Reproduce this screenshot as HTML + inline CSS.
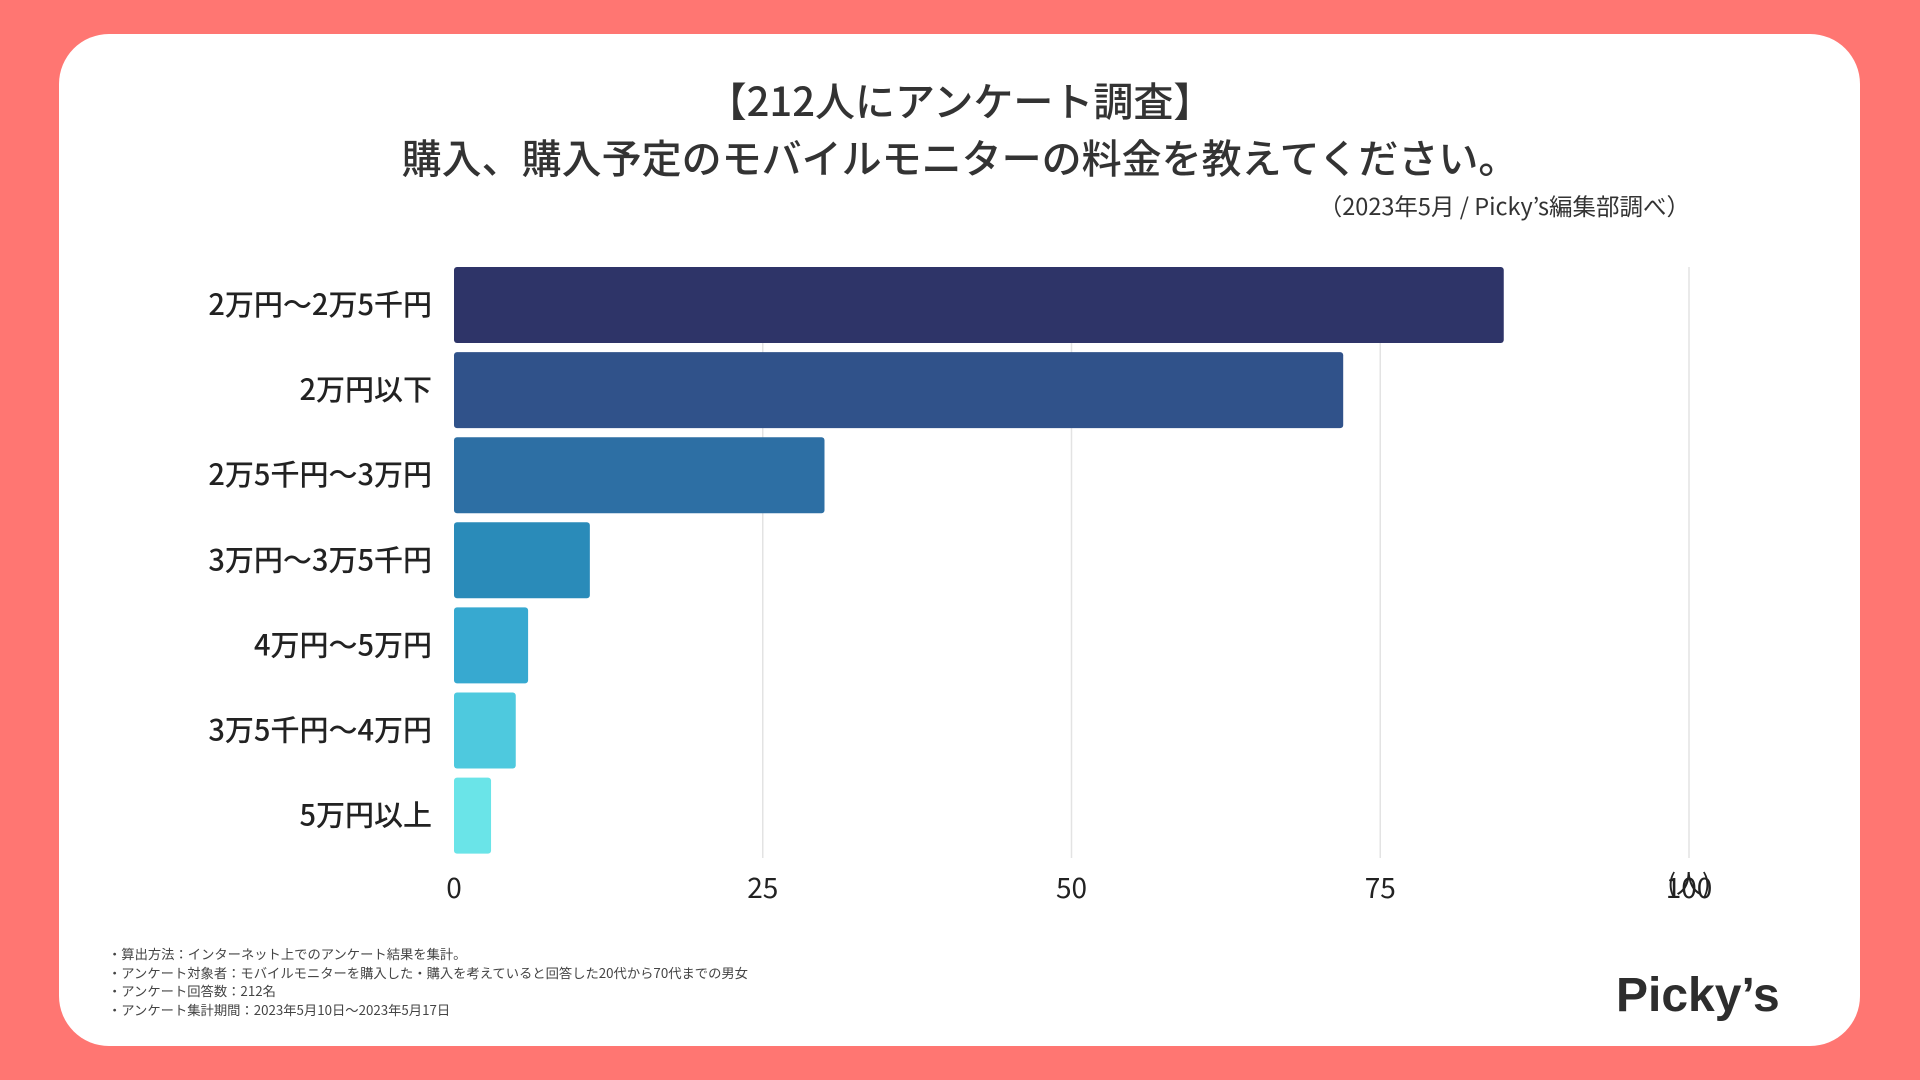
<!DOCTYPE html>
<html><head><meta charset="utf-8">
<style>
body{margin:0;width:1920px;height:1080px;background:#ff7672;overflow:hidden;font-family:"Noto Sans CJK JP","Liberation Sans",sans-serif;}
#card{position:absolute;left:59px;top:34px;width:1801px;height:1012px;background:#fff;border-radius:50px;}
.t{position:absolute;color:#333;}
</style></head><body>
<div id="card"></div>
<div class="t" style="left:0;width:1920px;top:71px;text-align:center;font-size:40px;line-height:57px;font-weight:500;">【212人にアンケート調査】<br>購入、購入予定のモバイルモニターの料金を教えてください。</div>
<div class="t" style="right:230px;top:188px;font-size:23.5px;">（2023年5月 / Picky’s編集部調べ）</div>
<svg id="chart" width="1920" height="1080" style="position:absolute;left:0;top:0;font-family:'Noto Sans CJK JP','Liberation Sans',sans-serif"></svg>
<div class="t" style="left:108px;top:945px;font-size:13.3px;line-height:18.5px;color:#444;">・算出方法：インターネット上でのアンケート結果を集計。<br>・アンケート対象者：モバイルモニターを購入した・購入を考えていると回答した20代から70代までの男女<br>・アンケート回答数：212名<br>・アンケート集計期間：2023年5月10日〜2023年5月17日</div>
<div class="t" style="left:1616px;top:968px;font-size:48px;font-weight:bold;color:#2d2d2d;font-family:'Liberation Sans',sans-serif;">Picky’s</div>
<script>
const categories=["2万円〜2万5千円","2万円以下","2万5千円〜3万円","3万円〜3万5千円","4万円〜5万円","3万5千円〜4万円","5万円以上"];
const values=[85,72,30,11,6,5,3];
const colors=["#2e3468","#30528a","#2d6fa4","#2a8bb9","#37a9d0","#4ec9de","#6ae4e8"];
const ticks=[0,25,50,75,100];
const NS="http://www.w3.org/2000/svg";
const svg=document.getElementById('chart');
const x0=454,x1=1689,top0=267,pitch=85.1,bh=76;
const xs=v=>x0+(x1-x0)*v/100;
function mk(t,a){const e=document.createElementNS(NS,t);for(const k in a)e.setAttribute(k,a[k]);svg.appendChild(e);return e;}
ticks.forEach(t=>{
 if(t>0){const g=mk('line',{x1:xs(t),x2:xs(t),y1:267,y2:858,stroke:'#e3e3e3','stroke-width':1.5});
 
 }
 const l=mk('text',{x:xs(t),y:898,'text-anchor':'middle','font-size':28,fill:'#222'});
 l.textContent=t;
 
 
});
const u=mk('text',{x:xs(100),y:893,'text-anchor':'middle','font-size':26,fill:'#222'});
u.textContent='(人)';


categories.forEach((c,i)=>{
 const y=top0+i*pitch;
 const r=mk('rect',{x:x0,y:y,width:xs(values[i])-x0,height:bh,fill:colors[i],rx:3});
 
 
 const l=mk('text',{x:432,y:y+bh/2+10,'text-anchor':'end','font-size':29,'font-weight':500,fill:'#222'});
 l.textContent=c;
 
 
});
</script>
</body></html>
